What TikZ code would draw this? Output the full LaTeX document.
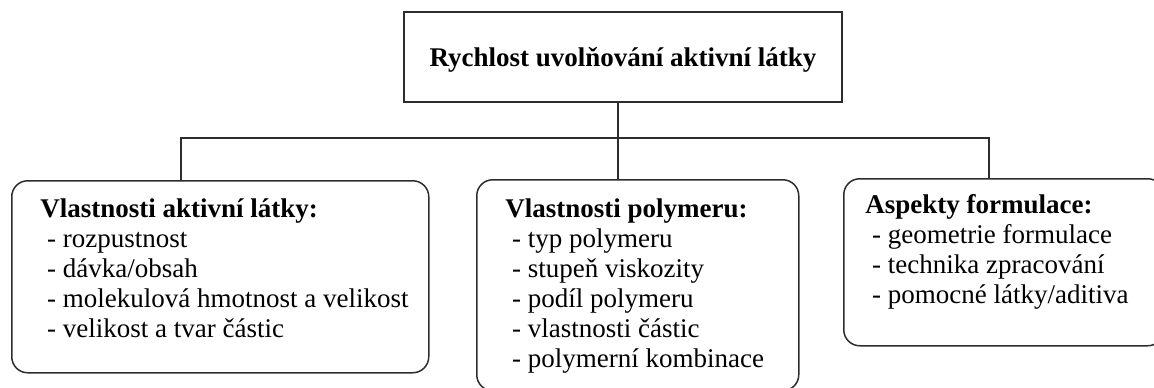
\documentclass[tikz,border=0pt]{standalone}
\usepackage{fontspec}
\setmainfont{Liberation Serif}
\usetikzlibrary{positioning}
\definecolor{linegray}{RGB}{45,45,45}
\newcommand{\dashitem}[1]{\hspace*{3.4pt}- #1}
\tikzset{
  titlebox/.style={draw=linegray,line width=0.75pt,minimum width=219pt,
    minimum height=45pt,inner sep=0pt,text depth=0pt,
    font=\fontsize{13.5pt}{15pt}\selectfont\bfseries},
  groupbox/.style={draw=linegray,line width=0.75pt,rounded corners=8pt,
    anchor=north west,inner sep=0pt},
  grouptext/.style={align=left,inner sep=0pt,
    font=\fontsize{13.5pt}{15pt}\selectfont},
  linkline/.style={draw=linegray,line width=0.75pt},
}

\begin{document}
\begin{tikzpicture}[x=0.5pt,y=-0.5pt]
  \path[use as bounding box,clip] (0,0) rectangle (1154,387);
  \node[titlebox] (rate) at (623,57) {Rychlost uvolňování aktivní látky};
  \node[groupbox,minimum width=208.5pt,minimum height=96pt] (drug) at (11,180) {};
  \node[groupbox,minimum width=161pt,minimum height=105.5pt] (polymer) at (476,179) {};
  \node[groupbox,minimum width=160pt,minimum height=83.5pt] (formul) at (843,178) {};
  \node[grouptext,below right=9pt and 14.5pt of drug.north west] (drugtext)
    {\textbf{Vlastnosti aktivní látky:}\\
     \dashitem{rozpustnost}\\
     \dashitem{dávka/obsah}\\
     \dashitem{molekulová hmotnost a velikost}\\
     \dashitem{velikost a tvar částic}};
  \node[grouptext,below right=9.5pt and 14.5pt of polymer.north west] (polymertext)
    {\textbf{Vlastnosti polymeru:}\\
     \dashitem{typ polymeru}\\
     \dashitem{stupeň viskozity}\\
     \dashitem{podíl polymeru}\\
     \dashitem{vlastnosti částic}\\
     \dashitem{polymerní kombinace}};
  \node[grouptext,below right=8pt and 11pt of formul.north west] (formultext)
    {\textbf{Aspekty formulace:}\\
     \dashitem{geometrie formulace}\\
     \dashitem{technika zpracování}\\
     \dashitem{pomocné látky/aditiva}};
  % rozvod spojnic
  \coordinate (busL) at (181,138);
  \coordinate (busM) at (618,138);
  \coordinate (busR) at (989,138);
  \draw[linkline] (rate.south -| busM) -- (polymer.north -| busM);
  \draw[linkline] (drug.north -| busL) -- (busL) -- (busR) -- (formul.north -| busR);
\end{tikzpicture}
\end{document}
